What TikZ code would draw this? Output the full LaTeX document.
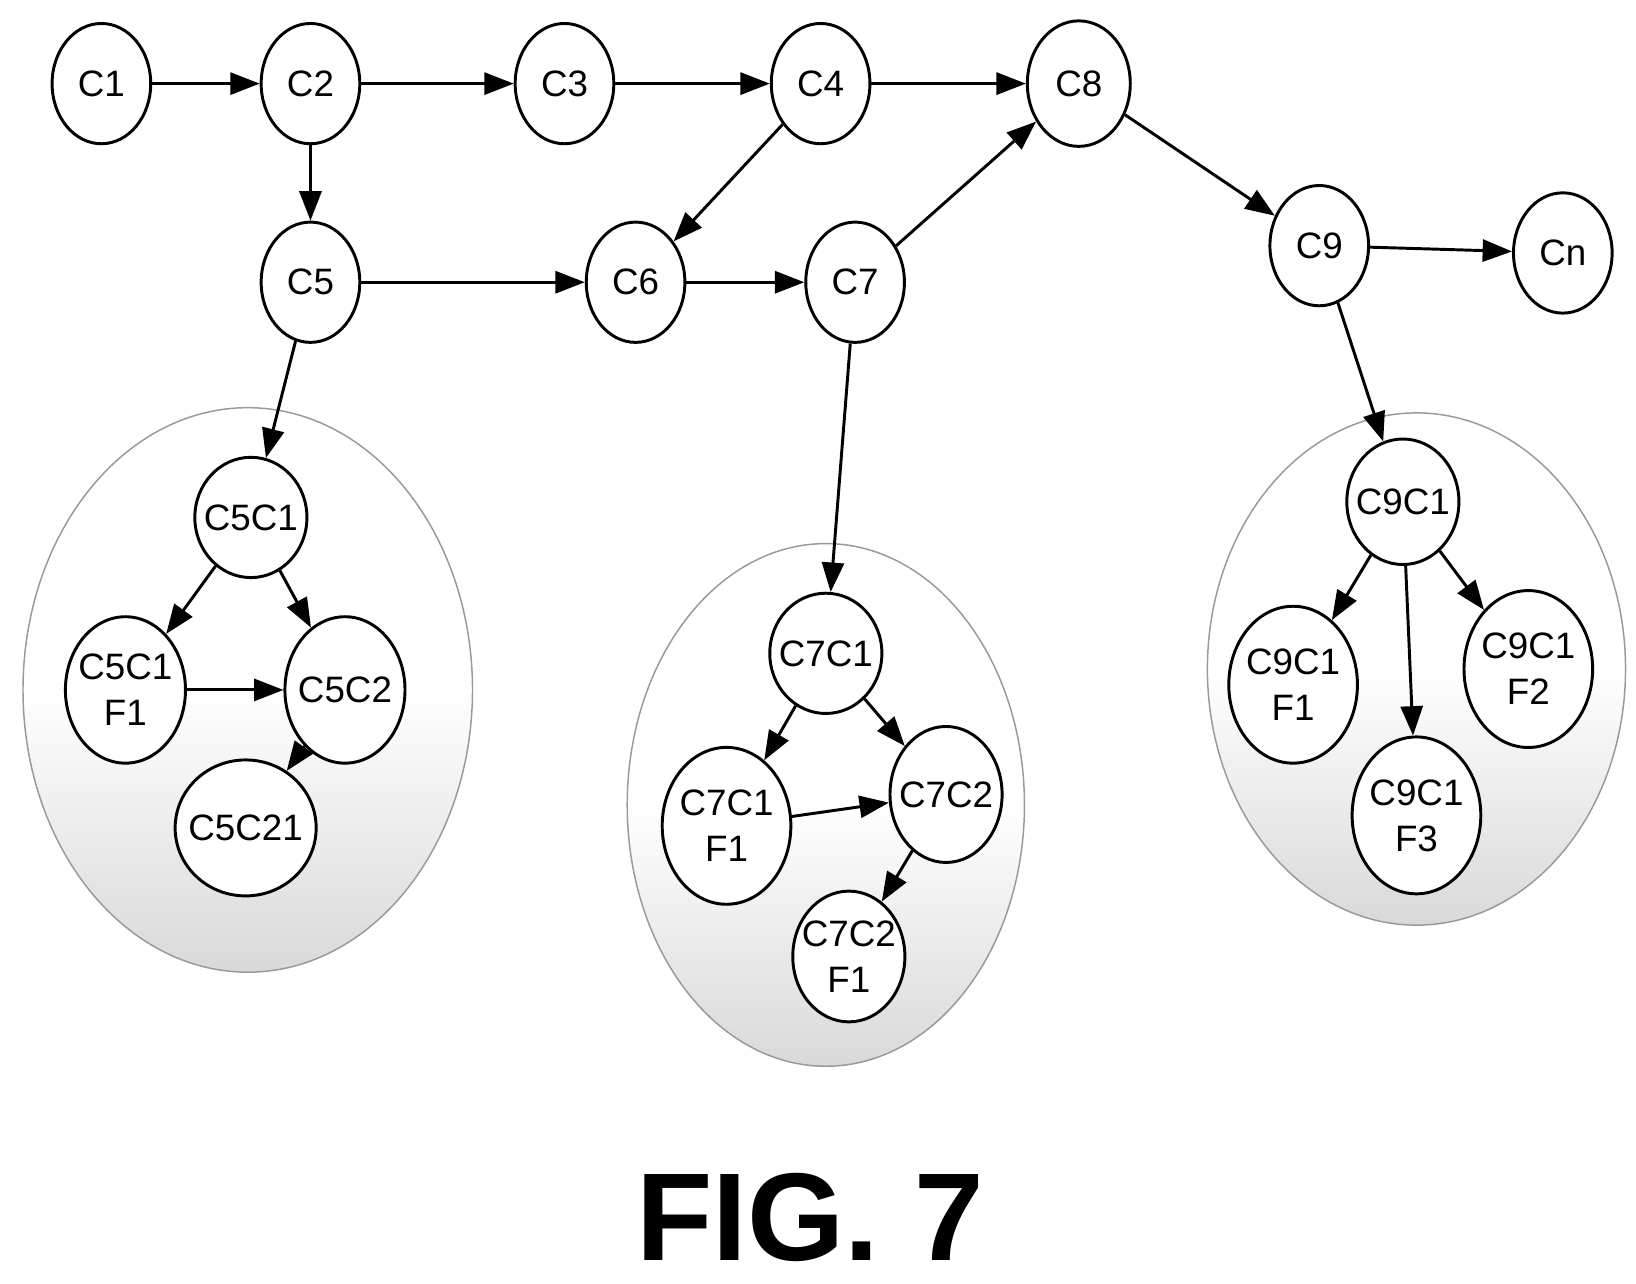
\documentclass[tikz,border=0pt]{standalone}
\usepackage{fontspec}
\setmainfont{Liberation Sans}
\usetikzlibrary{shapes.geometric,arrows.meta}
\tikzset{
  cnode/.style={ellipse,draw=black,thick,fill=white,inner xsep=-2pt,inner ysep=0pt,
    minimum width=#1*0.82cm,minimum height=#1cm,align=center,
    font=\fontsize{10pt}{12.5pt}\selectfont},
  cnode/.default=1.15,
  grp/.style={draw=gray!80,top color=white,bottom color=gray!30,middle color=white},
  arr/.style={-{Triangle[length=8pt,width=6pt]},thick}
}
\begin{document}
\begin{tikzpicture}[x=0.01cm,y=-0.01cm]
				\useasboundingbox (0,0) rectangle (1565,1228);
				% groups
				\path[grp] (237,660) ellipse [x radius=215,y radius=270];
				\path[grp] (790,770) ellipse [x radius=190,y radius=250];
				\path[grp] (1355,640) ellipse [x radius=200,y radius=245];
				
				\node[cnode] (C1) at (97,80) {C1};
				\node[cnode] (C2) at (297,80) {C2};
				\node[cnode] (C3) at (540,80) {C3};
				\node[cnode] (C4) at (785,80) {C4};
				\node[cnode=1.2] (C8) at (1032,80) {C8};
				\node[cnode] (C5) at (297,270) {C5};
				\node[cnode] (C6) at (608,270) {C6};
				\node[cnode] (C7) at (818,270) {C7};
				\node[cnode] (C9) at (1262,235) {C9};
				\node[cnode] (Cn) at (1495,242) {Cn};
				
				\node[cnode] (C5C1) at (240,495) {C5C1};
				\node[cnode=1.4] (C5C1F1) at (120,660) {C5C1\\F1};
				\node[cnode=1.4] (C5C2) at (330,660) {C5C2};
				\node[cnode=1.3] (C5C21) at (235,792) {C5C21};
				
				\node[cnode] (C7C1) at (790,625) {C7C1};
				\node[cnode=1.5] (C7C1F1) at (695,790) {C7C1\\F1};
				\node[cnode=1.3] (C7C2) at (905,760) {C7C2};
				\node[cnode=1.25] (C7C2F1) at (812,915) {C7C2\\F1};
				
				\node[cnode=1.2] (C9C1) at (1342,480) {C9C1};
				\node[cnode=1.5] (C9C1F1) at (1237,655) {C9C1\\F1};
				\node[cnode=1.5] (C9C1F2) at (1462,640) {C9C1\\F2};
				\node[cnode=1.5] (C9C1F3) at (1355,780) {C9C1\\F3};
				
				\foreach \a/\b in {C1/C2,C2/C3,C3/C4,C4/C8,C2/C5,C4/C6,C5/C6,C6/C7,C7/C8,C8/C9,C9/Cn,
				  C5/C5C1,C7/C7C1,C9/C9C1,
				  C5C1/C5C1F1,C5C1/C5C2,C5C1F1/C5C2,C5C2/C5C21,
				  C7C1/C7C1F1,C7C1/C7C2,C7C1F1/C7C2,C7C2/C7C2F1,
				  C9C1/C9C1F1,C9C1/C9C1F2,C9C1/C9C1F3}{
					\draw[arr] (\a) -- (\b);}
				
				\node[font=\bfseries\fontsize{34pt}{38pt}\selectfont] (fig) at (775,1165) {FIG. 7};
			\end{tikzpicture}
\end{document}
